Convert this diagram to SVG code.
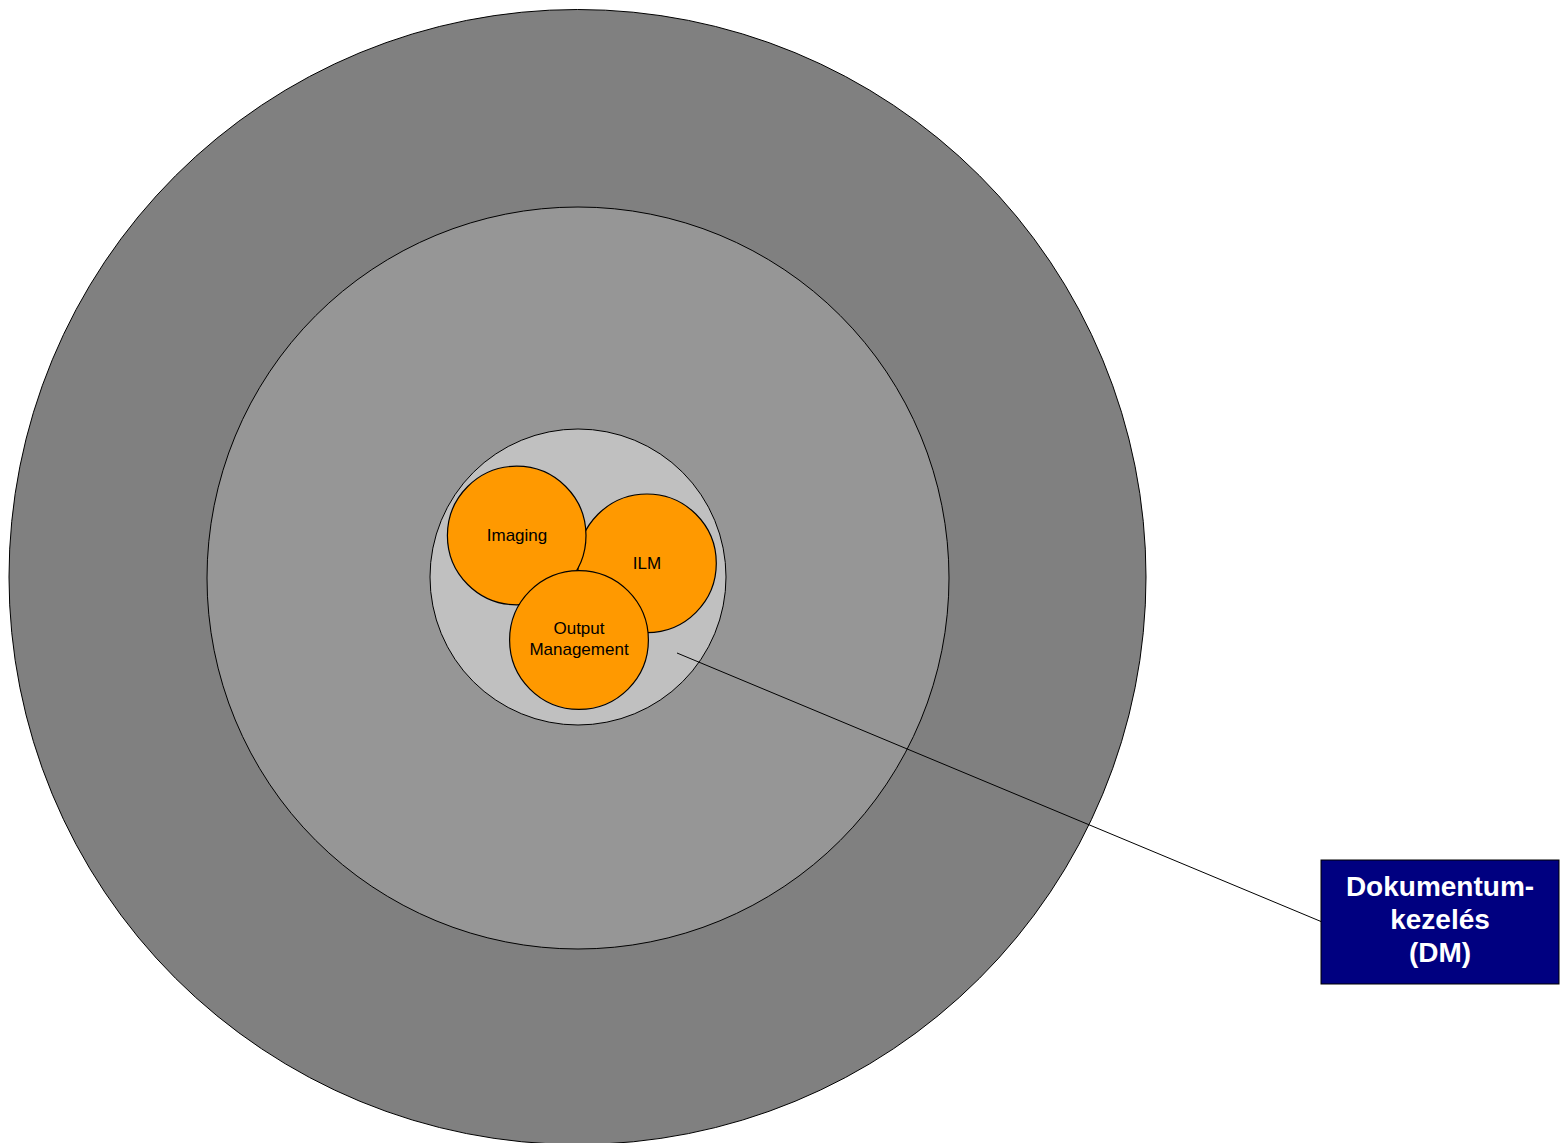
<svg xmlns="http://www.w3.org/2000/svg" width="1560" height="1143" viewBox="0 0 1560 1143">
<style>
.ring{stroke:#000;stroke-width:1}
.bub{fill:#FF9900;stroke:#000;stroke-width:1.2}
.lbl{font-family:"Liberation Sans",Arial,sans-serif;font-size:17px;fill:#000;text-anchor:middle}
.box{font-family:"Liberation Sans",Arial,sans-serif;font-size:28px;font-weight:bold;fill:#fff;text-anchor:middle}
</style>
<rect width="1560" height="1143" fill="#fff"/>
<g id="outer"><ellipse class="ring" cx="577.5" cy="577" rx="568.5" ry="567.5" fill="#808080"/></g>
<g id="middle"><ellipse class="ring" cx="578" cy="578" rx="371" ry="371" fill="#969696"/></g>
<g id="inner"><circle class="ring" cx="578" cy="577" r="148" fill="#C0C0C0"/></g>
<g id="connectors"><line x1="677" y1="653" x2="1321" y2="921.5" stroke="#000" stroke-width="1"/></g>
<g id="ilm"><circle class="bub" cx="647" cy="563.3" r="69.3"/><text class="lbl" x="647" y="568.5">ILM</text></g>
<g id="imaging"><circle class="bub" cx="516.7" cy="535.5" r="69.3"/><text class="lbl" x="517" y="540.5">Imaging</text></g>
<g id="output"><circle class="bub" cx="579" cy="640" r="69.4"/><text class="lbl" x="579" y="634">Output</text><text class="lbl" x="579" y="655">Management</text></g>
<g id="dm"><rect x="1321" y="860" width="238" height="124" fill="#000080" stroke="#000" stroke-width="1"/>
<text class="box" x="1440" y="896">Dokumentum-</text><text class="box" x="1440" y="929">kezelés</text><text class="box" x="1440" y="962">(DM)</text></g>
</svg>
